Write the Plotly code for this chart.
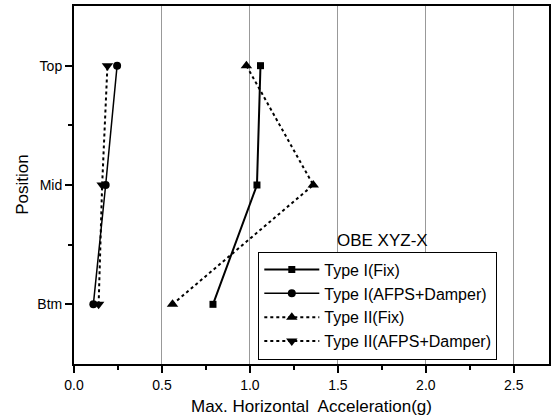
import plotly.graph_objects as go

positions = [1, 2, 3]
pos_labels = ["Btm", "Mid", "Top"]

type1_fix = [0.79, 1.04, 1.06]
type1_afps = [0.11, 0.18, 0.245]
type2_fix = [0.56, 1.36, 0.98]
type2_afps = [0.14, 0.16, 0.19]

names = ["Type I(Fix)", "Type I(AFPS+Damper)", "Type II(Fix)", "Type II(AFPS+Damper)"]
series = [type1_fix, type1_afps, type2_fix, type2_afps]
symbols = ["square", "circle", "triangle-up", "triangle-down"]
sizes = [7, 8, 10, 10]
dashes = ["solid", "solid", "dot", "dot"]
widths = [2, 1.5, 2, 2]

fig = go.Figure()
for n, s, sym, sz, d, w in zip(names, series, symbols, sizes, dashes, widths):
    fig.add_trace(go.Scatter(
        x=s, y=positions, mode="lines+markers", name=n,
        line=dict(color="black", width=w, dash=d),
        marker=dict(symbol=sym, size=sz, color="black"),
    ))

FONT = "Liberation Sans, Arial, sans-serif"

fig.add_annotation(text="OBE XYZ-X", x=0.65, y=0.345, xref="paper", yref="paper",
                   showarrow=False, xanchor="center", yanchor="middle",
                   font=dict(size=17, color="black", family=FONT))
fig.add_annotation(text="Max. Horizontal&nbsp; Acceleration(g)", x=0.5, y=-0.118,
                   xref="paper", yref="paper", showarrow=False,
                   xanchor="center", yanchor="middle",
                   font=dict(size=17, color="black", family=FONT))
fig.add_annotation(text="Position", x=-0.11, y=0.5, xref="paper", yref="paper",
                   showarrow=False, textangle=-90, xanchor="center", yanchor="middle",
                   font=dict(size=17, color="black", family=FONT))

axis_common = dict(
    showline=True, linecolor="black", linewidth=2, mirror=True,
    ticks="outside", ticklen=7, tickwidth=1.5, tickcolor="black",
    zeroline=False,
)

fig.update_layout(
    width=554, height=419,
    margin=dict(l=74, r=3, t=6, b=55),
    paper_bgcolor="white", plot_bgcolor="white",
    font=dict(family=FONT, size=14, color="black"),
    showlegend=True,
    xaxis=dict(range=[0, 2.7], tickvals=[0, 0.5, 1.0, 1.5, 2.0, 2.5],
               ticktext=["0.0", "0.5", "1.0", "1.5", "2.0", "2.5"],
               tickfont=dict(size=14),
               showgrid=True, gridcolor="#999999", gridwidth=1,
               minor=dict(ticks="outside", dtick=0.25, ticklen=4, tickcolor="black", showgrid=False),
               **axis_common),
    yaxis=dict(range=[0.5, 3.5], tickvals=positions, ticktext=pos_labels,
               tickfont=dict(size=14),
               showgrid=False,
               minor=dict(ticks="outside", tickvals=[1.5, 2.5], ticklen=4, tickcolor="black"),
               **axis_common),
    legend=dict(x=0.388, y=0.163, xanchor="left", yanchor="middle",
                bordercolor="black", borderwidth=1, bgcolor="white",
                font=dict(size=16), tracegroupgap=0, itemwidth=55),
)

fig.write_html("out.html", post_script="document.body.style.margin='0';",
               config={"displayModeBar": False})
